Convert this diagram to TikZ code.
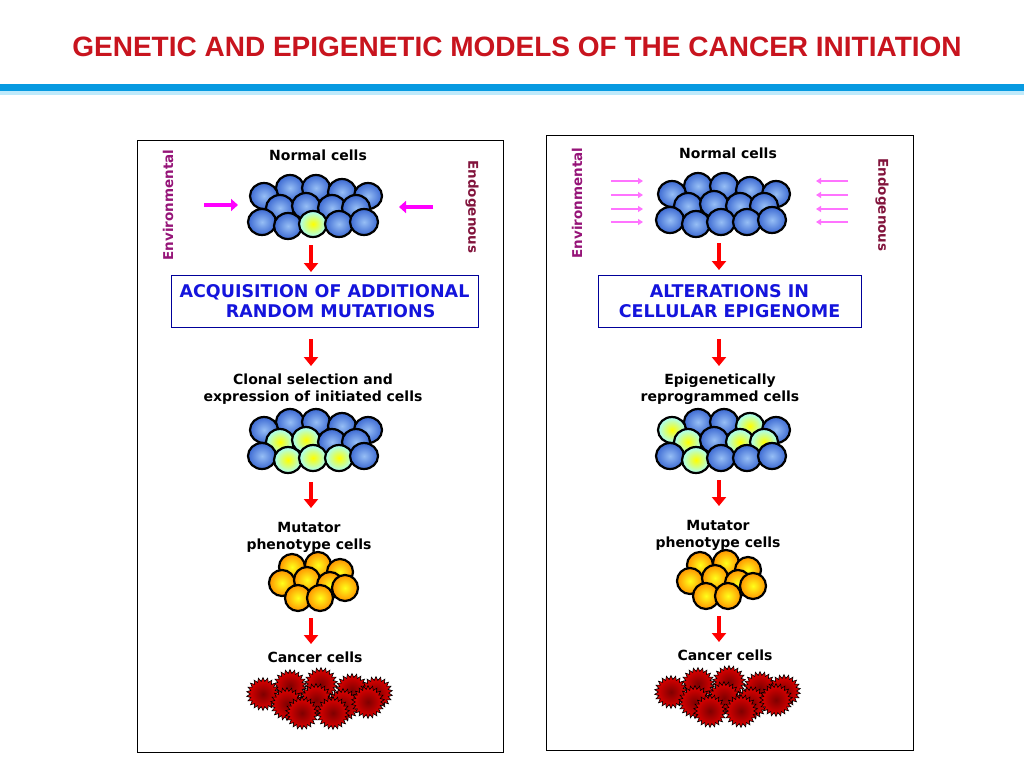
\documentclass[tikz,border=0pt]{standalone}
\usepackage{fontspec}
\setmainfont{DejaVu Sans}
\newfontfamily\arialf{Liberation Sans}
\usetikzlibrary{shapes.geometric,arrows.meta}
\definecolor{cblueI}{RGB}{150,190,245}
\definecolor{cblueO}{RGB}{60,105,210}
\definecolor{ttl}{RGB}{200,20,30}
\definecolor{boxt}{RGB}{20,20,220}
\definecolor{envc}{RGB}{150,20,120}
\definecolor{endc}{RGB}{130,20,60}
\definecolor{mag}{RGB}{255,0,255}
\begin{document}
\begin{tikzpicture}[x=1pt,y=-1pt,
 nc/.style={draw=black,line width=2.2pt,inner color=cblueI,outer color=cblueO},
 ic/.style={draw=black,line width=2.2pt,inner color=yellow,outer color=cyan!35!white},
 yc/.style={draw=black,line width=2.2pt,inner color=yellow!90!white,outer color=orange!85!yellow},
 rc/.style={star,star points=22,star point ratio=1.3,minimum size=33pt,inner sep=0pt,draw=black,line width=0.6pt,inner color=red!50!black,outer color=red!90!black},
 lab/.style={font=\bfseries\fontsize{14}{17}\selectfont,align=center},
 rl/.style={font=\bfseries\fontsize{13.5}{15}\selectfont},
 red arr/.style={draw=red,line width=4.5pt,-{Triangle[length=9pt,width=14pt]}},
 mag arr/.style={draw=mag,line width=4.5pt,-{Triangle[length=7pt,width=12pt]}},
 pink arr/.style={draw=mag!55,line width=2pt,-{Triangle[length=5pt,width=6pt]}},
 bx/.style={draw=blue!60!black,line width=0.7pt,font=\bfseries\fontsize{17.5}{20}\selectfont,text=boxt,align=center}]
\useasboundingbox (0,0) rectangle (1024,768);
\fill[white] (0,0) rectangle (1024,768);
\node[font=\arialf\bfseries\fontsize{28}{30}\selectfont,text=ttl] (title) at (517,47) {GENETIC AND EPIGENETIC MODELS OF THE CANCER INITIATION};
\fill[cyan!85!blue] (0,84) rectangle (1024,91);
\fill[cyan!25] (0,91) rectangle (1024,95);
\draw[line width=0.8pt] (137,140) rectangle (503,752);
\draw[line width=0.8pt] (546,135) rectangle (913,750);
% ---------- LEFT ----------
\node[lab] (n1) at (318,155) {Normal cells};
\foreach \x/\y/\s in {290/188/nc,316/188/nc,342/192/nc,264/196/nc,368/196/nc,280/208/nc,306/206/nc,332/208/nc,356/208/nc,262/222/nc,288/226/nc,313/224/ic,339/224/nc,364/222/nc}
  \draw[\s] (\x,\y) ellipse (14 and 13);
\node[rotate=90,rl,text=envc] (env1) at (168,205) {Environmental};
\node[rotate=-90,rl,text=endc] (end1) at (472,207) {Endogenous};
\coordinate (ea1) at (204,205); \coordinate (eb1) at (238,205);
\draw[mag arr] (ea1) -- (eb1);
\coordinate (ec1) at (433,207); \coordinate (ed1) at (399,207);
\draw[mag arr] (ec1) -- (ed1);
\coordinate (a1s) at (311,245); \coordinate (a1e) at (311,272);
\draw[red arr] (a1s) -- (a1e);
\node[bx,minimum width=307pt,minimum height=52pt] (box1) at (324.5,301) {ACQUISITION OF ADDITIONAL\\ \ \ RANDOM MUTATIONS};
\coordinate (a2s) at (311,339); \coordinate (a2e) at (311,366);
\draw[red arr] (a2s) -- (a2e);
\node[lab] (c1) at (313,389) {Clonal selection and\\expression of initiated cells};
\foreach \x/\y/\s in {290/422/nc,316/422/nc,342/426/nc,264/430/nc,368/430/nc,280/442/ic,306/440/ic,332/442/nc,356/442/nc,262/456/nc,288/460/ic,313/458/ic,339/458/ic,364/456/nc}
  \draw[\s] (\x,\y) ellipse (14 and 13);
\coordinate (a3s) at (311,482); \coordinate (a3e) at (311,508);
\draw[red arr] (a3s) -- (a3e);
\node[lab] (m1) at (309,537) {Mutator\\phenotype cells};
\foreach \x/\y in {292/567,318/565,340/572,282/583,307/580,330/585,345/588,298/598,320/598}
  \draw[yc] (\x,\y) circle (13);
\coordinate (a4s) at (311,618); \coordinate (a4e) at (311,644);
\draw[red arr] (a4s) -- (a4e);
\node[lab] (k1) at (315,657) {Cancer cells};
\foreach \x/\y [count=\i] in {290/686,321/684,352/690,376/693,263/694,287/704,316/700,343/705,368/702,302/713,333/713}
 \node[rc] (r1\i) at (\x,\y) {};
% ---------- RIGHT ----------
\node[lab] (n2) at (728,153) {Normal cells};
\foreach \x/\y/\s in {290/188/nc,316/188/nc,342/192/nc,264/196/nc,368/196/nc,280/208/nc,306/206/nc,332/208/nc,356/208/nc,262/222/nc,288/226/nc,313/224/nc,339/224/nc,364/222/nc}
  \draw[\s] (\x+408,\y-2) ellipse (14 and 13);
\node[rotate=90,rl,text=envc] (env2) at (577,203) {Environmental};
\node[rotate=-90,rl,text=endc] (end2) at (882,205) {Endogenous};
\foreach \yy [count=\i] in {181,195,209,222}{
 \coordinate (pl\i a) at (611,\yy); \coordinate (pl\i b) at (643,\yy);
 \draw[pink arr] (pl\i a) -- (pl\i b);
 \coordinate (pr\i a) at (848,\yy); \coordinate (pr\i b) at (816,\yy);
 \draw[pink arr] (pr\i a) -- (pr\i b);}
\coordinate (b1s) at (719,243); \coordinate (b1e) at (719,270);
\draw[red arr] (b1s) -- (b1e);
\node[bx,minimum width=263pt,minimum height=52pt] (box2) at (729.5,301) {ALTERATIONS IN\\CELLULAR EPIGENOME};
\coordinate (b2s) at (719,339); \coordinate (b2e) at (719,366);
\draw[red arr] (b2s) -- (b2e);
\node[lab] (c2) at (720,389) {Epigenetically\\reprogrammed cells};
\foreach \x/\y/\s in {290/188/nc,316/188/nc,342/192/ic,264/196/ic,368/196/nc,280/208/ic,306/206/nc,332/208/ic,356/208/ic,262/222/nc,288/226/ic,313/224/nc,339/224/nc,364/222/nc}
  \draw[\s] (\x+408,\y+234) ellipse (14 and 13);
\coordinate (b3s) at (719,480); \coordinate (b3e) at (719,506);
\draw[red arr] (b3s) -- (b3e);
\node[lab] (m2) at (718,535) {Mutator\\phenotype cells};
\foreach \x/\y in {292/567,318/565,340/572,282/583,307/580,330/585,345/588,298/598,320/598}
  \draw[yc] (\x+408,\y-2) circle (13);
\coordinate (b4s) at (719,616); \coordinate (b4e) at (719,642);
\draw[red arr] (b4s) -- (b4e);
\node[lab] (k2) at (725,655) {Cancer cells};
\foreach \x/\y [count=\i] in {290/686,321/684,352/690,376/693,263/694,287/704,316/700,343/705,368/702,302/713,333/713}
 \node[rc] (r2\i) at (\x+408,\y-2) {};
\end{tikzpicture}
\end{document}
